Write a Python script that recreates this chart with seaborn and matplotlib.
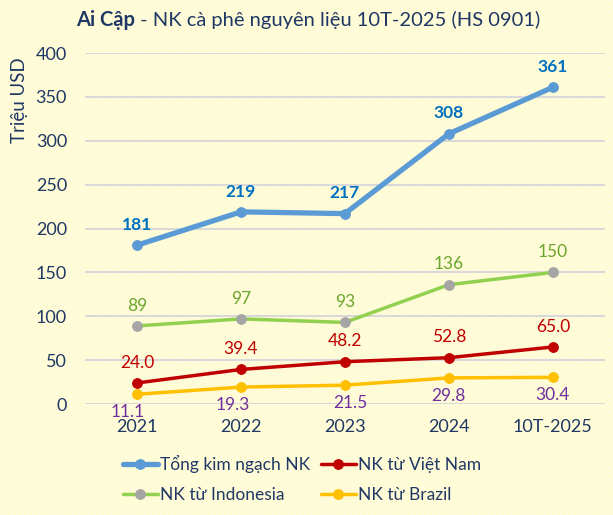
import pandas as pd
import matplotlib.pyplot as plt
import seaborn as sns
from matplotlib.patches import Rectangle

# === DATA ===
years = ["2021", "2022", "2023", "2024", "10T-2025"]
tong = [181, 219, 217, 308, 361]
vietnam = [24.0, 39.4, 48.2, 52.8, 65.0]
indonesia = [89, 97, 93, 136, 150]
brazil = [11.1, 19.3, 21.5, 29.8, 30.4]

navy = "#1F3864"
sns.set_style("white")
plt.rcParams['font.family'] = ['Lato', 'DejaVu Sans']
plt.rcParams['hatch.linewidth'] = 2.5

fig = plt.figure(figsize=(6.13, 5.15), dpi=100)
# nen soc vang nhat
fig.patches.append(Rectangle((0, 0), 1, 1, transform=fig.transFigure, facecolor="white",
                             edgecolor="#FFFBD2", hatch="\\\\\\\\\\\\", linewidth=0, zorder=-10))
ax = fig.add_axes([0.1387, 0.2155, 0.848, 0.6815])
ax.set_facecolor("none")

x = list(range(len(years)))
series = [
    ("Tổng kim ngạch NK", tong, "#5B9BD5", "#5B9BD5", 3.8),
    ("NK từ Việt Nam", vietnam, "#C00000", "#C00000", 2.5),
    ("NK từ Indonesia", indonesia, "#92D050", "#A5A5A5", 2.5),
    ("NK từ Brazil", brazil, "#FFC000", "#FFC000", 2.5),
]
for name, vals, c, mc, lw in series:
    sns.lineplot(x=x, y=vals, ax=ax, color=c, linewidth=lw, marker="o", markersize=7,
                 markerfacecolor=mc, markeredgecolor=mc, label=name)

# === NHAN DU LIEU ===
brazil_dx = [-7, -6, 4, 0, 0]
for i in x:
    ax.annotate(f"{tong[i]:.0f}", (i, tong[i]), xytext=(0, 11), textcoords="offset points",
                ha="center", color="#0070C0", fontsize=12.5, fontweight="bold")
    ax.annotate(f"{indonesia[i]:.0f}", (i, indonesia[i]), xytext=(0, 11), textcoords="offset points",
                ha="center", color="#6BA52E", fontsize=12.5)
    ax.annotate(f"{vietnam[i]:.1f}", (i, vietnam[i]), xytext=(0, 11), textcoords="offset points",
                ha="center", color="#C00000", fontsize=12.5)
    ax.annotate(f"{brazil[i]:.1f}", (i, brazil[i]), xytext=(brazil_dx[i], -7), textcoords="offset points",
                ha="center", va="top", color="#7030A0", fontsize=12.5)

ax.set_xlim(-0.5, 4.5)
ax.set_ylim(0, 400)
ax.set_yticks(range(0, 401, 50))
ax.set_xticks(x)
ax.set_xticklabels(years)
ax.tick_params(axis="both", colors=navy, labelsize=13, length=0)
ax.tick_params(axis="y", pad=13)
ax.tick_params(axis="x", pad=11)
ax.grid(axis="y", color="#D9D9D9", linewidth=1.5)
ax.set_axisbelow(True)
for s in ax.spines.values():
    s.set_visible(False)
ax.set_ylabel("Triệu USD", color=navy, fontsize=13.5)
ax.yaxis.set_label_coords(-0.11, 0.866)

# thu tu chu thich: hang 1 Tong + VN, hang 2 Indonesia + Brazil
h, l = ax.get_legend_handles_labels()
order = [0, 2, 1, 3]
ax.legend([h[k] for k in order], [l[k] for k in order], loc="upper left",
          bbox_to_anchor=(123 / 613, 1 - 455 / 515), bbox_transform=fig.transFigure,
          ncol=2, frameon=False, fontsize=12.5, labelcolor=navy, handlelength=2.0,
          handletextpad=0.15, columnspacing=0.6, labelspacing=0.8,
          borderpad=0, borderaxespad=0)

t1 = fig.text(76 / 613, 1 - 20 / 515, "Ai Cập", fontsize=14.5, fontweight="bold",
              color=navy, va="center")
fig.canvas.draw()
ax.annotate(" - NK cà phê nguyên liệu 10T-2025 (HS 0901)", xy=(1, 0.5), xycoords=t1,
            fontsize=14.5, color=navy, va="center", ha="left")

plt.savefig("out.png", dpi=100)
plt.close()
